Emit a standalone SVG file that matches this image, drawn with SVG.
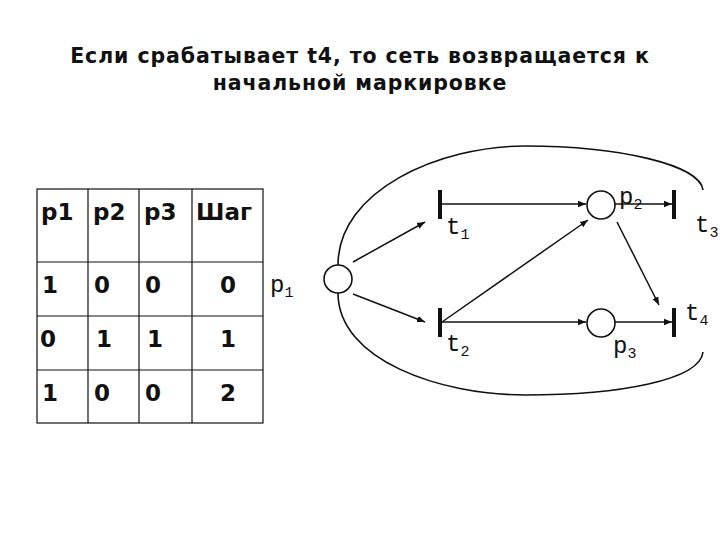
<svg xmlns="http://www.w3.org/2000/svg" width="720" height="540" viewBox="0 0 720 540">
<style>
.t{font-family:"DejaVu Sans",sans-serif;font-weight:bold;font-size:20.5px;letter-spacing:0.9px;fill:#111}
.c{font-family:"DejaVu Sans",sans-serif;font-weight:bold;font-size:23px;fill:#111}
.g{font-family:"Liberation Mono","Courier New",monospace;font-size:24px;fill:#111}
.s{font-size:15px}
.e{stroke:#111;stroke-width:1.6;fill:none}
.a{stroke:#111;stroke-width:1.5;fill:none;marker-end:url(#ar)}
.bar{stroke:#111;stroke-width:4}
.pl{stroke:#111;stroke-width:1.6;fill:#fff}
</style>
<defs><marker id="ar" viewBox="0 0 10 10" refX="10" refY="5" markerWidth="8" markerHeight="8" markerUnits="userSpaceOnUse" orient="auto"><path d="M0,1 L10,5 L0,9 z" fill="#111"/></marker></defs>
<rect width="720" height="540" fill="#fff"/>
<text class="t" x="360" y="63" text-anchor="middle">Если срабатывает t4, то сеть возвращается к</text>
<text class="t" x="360" y="90" text-anchor="middle">начальной маркировке</text>
<g id="table" stroke="#111" stroke-width="1.2" fill="none">
<rect x="37" y="189" width="226" height="234"/>
<line x1="88" y1="189" x2="88" y2="423"/><line x1="139" y1="189" x2="139" y2="423"/><line x1="192" y1="189" x2="192" y2="423"/>
<line x1="37" y1="262" x2="263" y2="262"/><line x1="37" y1="316" x2="263" y2="316"/><line x1="37" y1="370" x2="263" y2="370"/>
</g>
<g id="tabletext">
<text class="c" x="41" y="220">p1</text><text class="c" x="93" y="220">p2</text><text class="c" x="144" y="220">p3</text><text class="c" x="196" y="220">Шаг</text>
<text class="c" x="42" y="293">1</text><text class="c" x="94" y="293">0</text><text class="c" x="145" y="293">0</text><text class="c" x="228" y="293" text-anchor="middle">0</text>
<text class="c" x="40" y="347">0</text><text class="c" x="96" y="347">1</text><text class="c" x="147" y="347">1</text><text class="c" x="228" y="347" text-anchor="middle">1</text>
<text class="c" x="42" y="401">1</text><text class="c" x="94" y="401">0</text><text class="c" x="145" y="401">0</text><text class="c" x="228" y="401" text-anchor="middle">2</text>
</g>
<g id="connectors">
<path class="e" d="M338,265 C338,190 440,146 525,146 C620,146 700,165 703,190"/>
<path class="e" d="M338,293 C338,360 440,395 525,395 C620,395 700,380 703,352"/>
<line class="a" x1="353" y1="262" x2="425" y2="222"/>
<line class="a" x1="353" y1="294" x2="425" y2="322"/>
<line class="a" x1="442" y1="204" x2="586" y2="204"/>
<line class="a" x1="442" y1="322" x2="588" y2="220"/>
<line class="a" x1="442" y1="322" x2="586" y2="322"/>
<line class="a" x1="615" y1="204" x2="672" y2="204"/>
<line class="a" x1="617" y1="222" x2="659" y2="305"/>
<line class="a" x1="615" y1="322" x2="672" y2="322"/>
</g>
<g id="p1"><circle class="pl" cx="338" cy="279" r="14"/><text class="g" x="270" y="292">p<tspan class="s" dy="5">1</tspan></text></g>
<g id="t1"><line class="bar" x1="440" y1="190" x2="440" y2="219"/><text class="g" x="446" y="234">t<tspan class="s" dy="5">1</tspan></text></g>
<g id="t2"><line class="bar" x1="440" y1="308" x2="440" y2="337"/><text class="g" x="446" y="351">t<tspan class="s" dy="5">2</tspan></text></g>
<g id="p2"><circle class="pl" cx="601" cy="205" r="14"/><text class="g" x="619" y="204">p<tspan class="s" dy="5">2</tspan></text></g>
<g id="p3"><circle class="pl" cx="601" cy="323" r="14"/><text class="g" x="613" y="353">p<tspan class="s" dy="5">3</tspan></text></g>
<g id="t3"><line class="bar" x1="674" y1="190" x2="674" y2="219"/><text class="g" x="695" y="232">t<tspan class="s" dy="5">3</tspan></text></g>
<g id="t4"><line class="bar" x1="674" y1="308" x2="674" y2="337"/><text class="g" x="685" y="320">t<tspan class="s" dy="5">4</tspan></text></g>
</svg>
